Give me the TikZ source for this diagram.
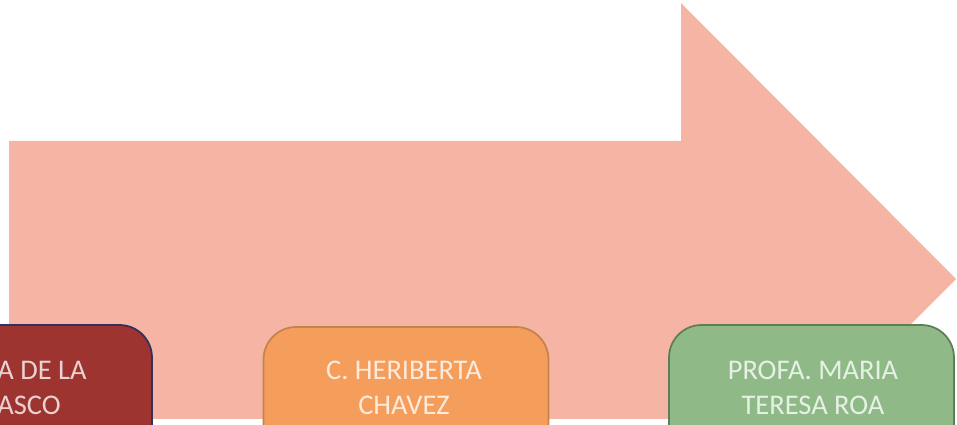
\documentclass[tikz,border=0pt]{standalone}
\usepackage{fontspec}
\setmainfont{Carlito}
\usepackage{xcolor}
\usetikzlibrary{positioning}

\definecolor{flecha}{HTML}{F6B5A4}
\definecolor{rojo}{HTML}{9E3430}
\definecolor{rojoborde}{HTML}{33305E}
\definecolor{naranja}{HTML}{F59E5C}
\definecolor{naranjaborde}{HTML}{C3844C}
\definecolor{verde}{HTML}{8FBA87}
\definecolor{verdeborde}{HTML}{5E7D58}

\tikzset{
  caja/.style={draw, line width=1pt, rounded corners=0.65cm, minimum width=5.7cm, minimum height=3.6cm},
  nombre/.style={font=\fontsize{16.2}{20}\selectfont, align=center, inner sep=0pt}
}

\begin{document}
\begin{tikzpicture}[x=0.02cm, y=-0.02cm]
  \useasboundingbox (0,0) rectangle (957,425);
  \clip (0,0) rectangle (957,425);

  % Flecha
  \fill[flecha] (9,141) -- (681,141) -- (681,3) -- (956,279) -- (681,555)
    -- (681,419) -- (9,419) -- cycle;

  % Cajas
  \node[caja, fill=rojo, draw=rojoborde] (carrasco) at (9.5,415) {};
  \node[caja, fill=naranja, draw=naranjaborde] (chavez) at (406,417) {};
  \node[caja, fill=verde, draw=verdeborde] (roa) at (811.5,415) {};

  % Nombres
  \node[nombre, align=left, anchor=west, text=rojo!22!white] (txtcarrasco) at (-3,388) {A DE LA\\ASCO};
  \node[nombre, text=naranja!22!white] (txtchavez) at (404,388) {C. HERIBERTA\\CHAVEZ};
  \node[nombre, text=verde!22!white] (txtroa) at (813,388) {PROFA. MARIA\\TERESA ROA};
\end{tikzpicture}
\end{document}
